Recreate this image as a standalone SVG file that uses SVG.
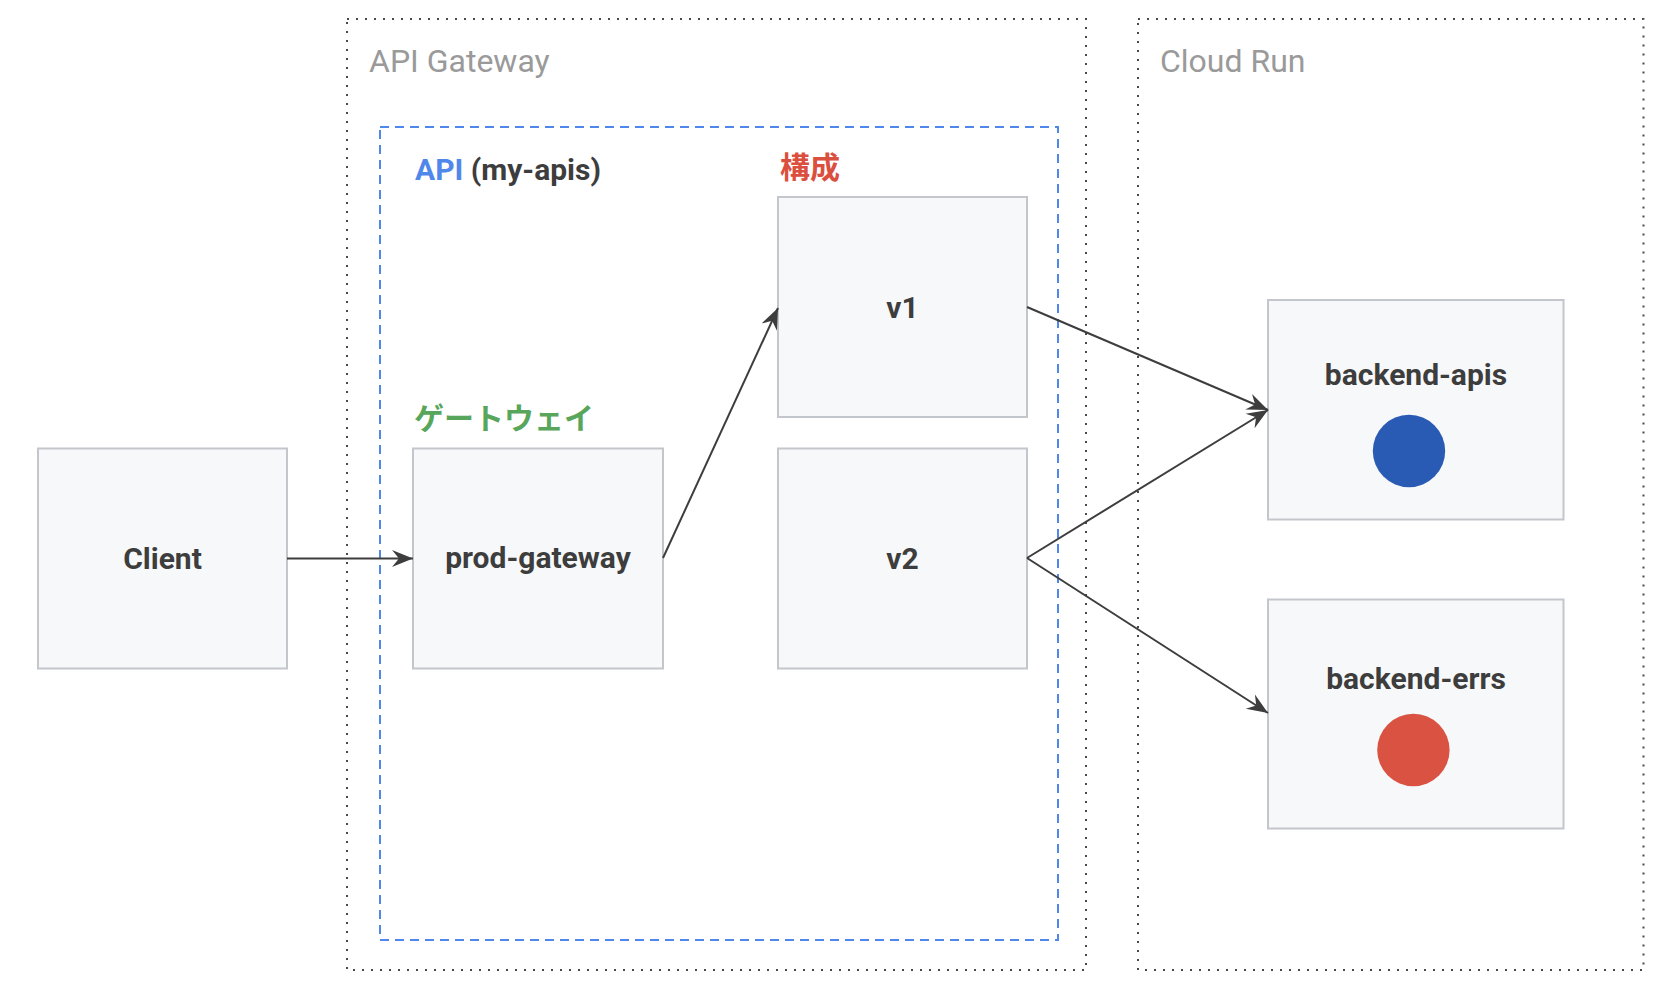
<svg xmlns="http://www.w3.org/2000/svg" width="1676" height="994" viewBox="0 0 1676 994">
<style>
.bg{fill:#ffffff}
.grp{fill:none;stroke:#4a4a4a;stroke-width:2;stroke-dasharray:2 7}
.api{fill:none;stroke:#4f87ea;stroke-width:2;stroke-dasharray:9 6}
.box{fill:#f7f8fa;stroke:#c3c6cb;stroke-width:2}
.lbl{font-family:Roboto,"Noto Sans CJK JP",sans-serif;font-size:30px;font-weight:bold;fill:#3d3d3d;text-anchor:middle}
.title{font-family:Roboto,sans-serif;font-size:32px;fill:#9a9a9a}
.hdr{font-family:Roboto,"Noto Sans CJK JP",sans-serif;font-size:30px;font-weight:bold}
.edge{fill:none;stroke:#3d3d3d;stroke-width:2}
</style>
<defs>
<marker id="arr" markerUnits="userSpaceOnUse" markerWidth="26" markerHeight="22" viewBox="-23 -11 26 22" refX="0" refY="0" orient="auto">
<path d="M0,0 L-21,-8.5 L-14,0 L-21,8.5 Z" fill="#3d3d3d"/>
</marker>
</defs>
<rect class="bg" x="0" y="0" width="1676" height="994"/>
<g id="group-api-gateway">
<rect class="grp" x="347" y="19" width="739" height="951"/>
<text class="title" x="369" y="72">API Gateway</text>
</g>
<g id="group-api">
<rect class="api" x="380" y="127" width="678" height="813"/>
<text class="hdr" x="415" y="180"><tspan fill="#4f87ea">API</tspan><tspan fill="#3d3d3d"> (my-apis)</tspan></text>
</g>
<g id="group-cloud-run">
<rect class="grp" x="1138" y="19" width="505.5" height="951"/>
<text class="title" x="1160" y="72">Cloud Run</text>
</g>
<g id="label-gateway">
<text class="hdr" x="414" y="429" fill="#58a65b">ゲートウェイ</text>
</g>
<g id="label-config">
<text class="hdr" x="780" y="178" fill="#db4f3f">構成</text>
</g>
<g id="node-client">
<rect class="box" x="38" y="448.5" width="249" height="220"/>
<text class="lbl" x="162.5" y="569">Client</text>
</g>
<g id="node-prod-gateway">
<rect class="box" x="413" y="448.5" width="250" height="220"/>
<text class="lbl" x="538" y="568">prod-gateway</text>
</g>
<g id="node-v1">
<rect class="box" x="778" y="197" width="249" height="220"/>
<text class="lbl" x="902.5" y="318">v1</text>
</g>
<g id="node-v2">
<rect class="box" x="778" y="448.5" width="249" height="220"/>
<text class="lbl" x="902.5" y="569">v2</text>
</g>
<g id="node-backend-apis">
<rect class="box" x="1268" y="300" width="295.5" height="219.5"/>
<text class="lbl" x="1416" y="385">backend-apis</text>
<circle cx="1409" cy="451" r="36.2" fill="#2a5bb4"/>
</g>
<g id="node-backend-errs">
<rect class="box" x="1268" y="599.5" width="295.5" height="229"/>
<text class="lbl" x="1416" y="689">backend-errs</text>
<circle cx="1413.4" cy="750" r="36.2" fill="#d95242"/>
</g>
<g id="connectors">
<line class="edge" x1="287" y1="558.5" x2="413" y2="558.5" marker-end="url(#arr)"/>
<line class="edge" x1="663" y1="558" x2="778" y2="308" marker-end="url(#arr)"/>
<line class="edge" x1="1027" y1="307" x2="1268" y2="410" marker-end="url(#arr)"/>
<line class="edge" x1="1027" y1="558" x2="1268" y2="410" marker-end="url(#arr)"/>
<line class="edge" x1="1027" y1="558" x2="1268" y2="713" marker-end="url(#arr)"/>
</g>
</svg>
